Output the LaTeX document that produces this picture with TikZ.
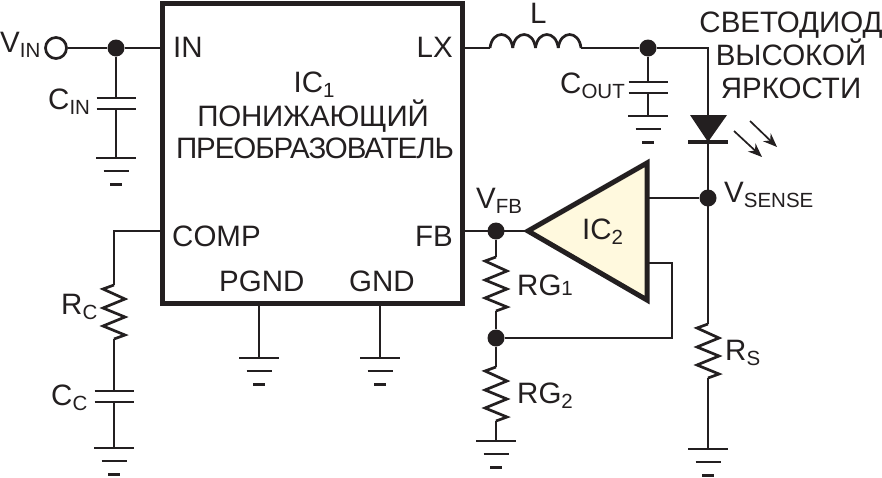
\documentclass[tikz,border=0pt]{standalone}
\usepackage{fontspec}
\setmainfont{Liberation Sans}
\usetikzlibrary{arrows.meta}
\definecolor{ink}{HTML}{231F20}
\definecolor{ampfill}{HTML}{FFF9DE}
\newcommand{\lsub}[1]{\raisebox{-5.5pt}{\fontsize{20.5}{20.5}\selectfont #1}}
\begin{document}
\begin{tikzpicture}[x=1pt, y=-1pt, color=ink]
    \tikzset{
      wire/.style={line width=2.7pt},
      heavy/.style={line width=5pt},
      dotnode/.style={circle, fill=ink, inner sep=0pt, minimum size=17pt},
      lbl/.style={anchor=base west, inner sep=0pt, font=\fontsize{29.5}{29.5}\selectfont},
      lblc/.style={lbl, anchor=base},
      gnd/.pic={
        \coordinate (-top) at (0,0);
        \draw[wire] (-20,0) -- (20,0);
        \draw[wire] (-12.5,13) -- (12.5,13);
        \draw[line width=3pt] (-6,26) -- (6,26);
      },
      capa/.pic={
        \coordinate (-a) at (0,0);
        \coordinate (-b) at (0,11);
        \draw[wire] (-19.5,0) -- (19.5,0);
        \draw[wire] (-19.5,11) -- (19.5,11);
      },
      resist/.pic={
        \coordinate (-a) at (0,0);
        \coordinate (-b) at (0,54);
        \draw[wire, line join=miter] (0,0) -- (-11,4) -- (11,14) -- (-11,23) -- (11,32) -- (-11,41) -- (11,50) -- (0,54);
      },
      coil/.pic={
        \coordinate (-a) at (0,0);
        \coordinate (-b) at (91,0);
        \foreach \i in {0,1,2,3}
          \draw[wire] (22.75*\i,0) .. controls (22.75*\i+2,-18) and (22.75*\i+20.75,-18) .. (22.75*\i+22.75,0);
      }
    }
    \useasboundingbox (0,0) rectangle (882,477);

    \draw (312,153) node (ic1) [heavy, draw, minimum width=300pt, minimum height=300pt, inner sep=0pt, outer sep=0pt] {};

    \draw (56,48) node (vin) [circle, wire, draw, inner sep=0pt, minimum size=21pt] {};
    \draw (116,48) node (n1) [dotnode] {};
    \draw (648,48) node (n2) [dotnode] {};
    \draw (496,231) node (nfb) [dotnode] {};
    \draw (496,338) node (nrg) [dotnode] {};
    \draw (708,198) node (nsense) [dotnode] {};

    \coordinate (pinin) at (162,48);
    \coordinate (pinlx) at (462,48);
    \coordinate (pincomp) at (162,231);
    \coordinate (pinfb) at (462,231);
    \coordinate (pinpgnd) at (259,303);
    \coordinate (pingnd) at (380,303);
    \coordinate (cornerled) at (708,48);
    \coordinate (cornercomp) at (114,231);
    \coordinate (ampin) at (528,231);
    \coordinate (ampsense) at (647,198);
    \coordinate (ampfb) at (647,263);
    \coordinate (cornerfb) at (672,263);
    \coordinate (cornerrg) at (672,338);

    \pic (cin) at (116,98) {capa};
    \pic (cout) at (648,82) {capa};
    \pic (cc) at (114,391) {capa};
    \pic (rc) at (114,285) {resist};
    \pic (rg1) at (496,257) {resist};
    \pic (rg2) at (496,367) {resist};
    \pic (rs) at (708,324) {resist};
    \pic (coil) at (490,48) {coil};
    \pic (g1) at (116,158) {gnd};
    \pic (g2) at (648,116) {gnd};
    \pic (g3) at (114,448) {gnd};
    \pic (g4) at (259,358) {gnd};
    \pic (g5) at (380,358) {gnd};
    \pic (g6) at (496,441) {gnd};
    \pic (g7) at (708,449) {gnd};

    \draw[wire] (vin) -- (n1) -- (pinin);
    \draw[wire] (n1) -- (cin-a);
    \draw[wire] (cin-b) -- (g1-top);
    \draw[wire] (pinlx) -- (coil-a);
    \draw[wire] (coil-b) -- (n2) -- (cornerled) -- (rs-a);
    \draw[wire] (n2) -- (cout-a);
    \draw[wire] (cout-b) -- (g2-top);
    \draw[wire] (pincomp) -- (cornercomp) -- (rc-a);
    \draw[wire] (rc-b) -- (cc-a);
    \draw[wire] (cc-b) -- (g3-top);
    \draw[wire] (pinpgnd) -- (g4-top);
    \draw[wire] (pingnd) -- (g5-top);
    \draw[wire] (pinfb) -- (ampin);
    \draw[wire] (nfb) -- (rg1-a);
    \draw[wire] (rg1-b) -- (nrg);
    \draw[wire] (nrg) -- (rg2-a);
    \draw[wire] (rg2-b) -- (g6-top);
    \draw[wire] (nrg) -- (cornerrg) -- (cornerfb) -- (ampfb);
    \draw[wire] (ampsense) -- (nsense);
    \draw[wire] (rs-b) -- (g7-top);

    \draw[heavy, fill=ampfill] (ampin) -- (647,163) -- (647,300) -- cycle;

    % led
    \fill (690,115) -- (727,115) -- (708,142) -- cycle;
    \draw[line width=4pt] (688,142) -- (728,142);
    \coordinate (ray1a) at (734,131);
    \coordinate (ray1b) at (762,157);
    \coordinate (ray2a) at (750,121);
    \coordinate (ray2b) at (777,147);
    \foreach \from/\to in {ray1a/ray1b, ray2a/ray2b}
      \draw[line width=1.7pt, -{Stealth[length=14pt, width=11pt]}] (\from) -- (\to);

    \draw (0,52) node (tvin) [lbl] {V\lsub{IN}};
    \draw (173,57) node (tin) [lbl] {IN};
    \draw (48,109) node (tcin) [lbl] {C\lsub{IN}};
    \draw (172,246) node (tcomp) [lbl] {COMP};
    \draw (219,291) node (tpgnd) [lbl] {PGND};
    \draw (349,291) node (tgnd) [lbl] {GND};
    \draw (453,246) node (tfb) [lbl, anchor=base east] {FB};
    \draw (453,57) node (tlx) [lbl, anchor=base east] {LX};
    \draw (314,92) node (tic1) [lblc] {IC\lsub{1}};
    \draw (313,126) node (ttype1) [lblc] {\addfontfeatures{LetterSpace=-0.8}ПОНИЖАЮЩИЙ};
    \draw (315,158) node (ttype2) [lblc] {\addfontfeatures{LetterSpace=-3.6}ПРЕОБРАЗОВАТЕЛЬ};
    \draw (530,23) node (tl) [lbl] {L};
    \draw (560,93) node (tcout) [lbl] {C\lsub{OUT}};
    \draw (791,32) node (tled1) [lblc] {СВЕТОДИОД};
    \draw (791,65) node (tled2) [lblc] {ВЫСОКОЙ};
    \draw (791,98) node (tled3) [lblc] {ЯРКОСТИ};
    \draw (476,208) node (tvfb) [lbl] {V\lsub{FB}};
    \draw (582,239) node (tic2) [lbl] {IC\lsub{2}};
    \draw (724,202) node (tsense) [lbl] {V\lsub{SENSE}};
    \draw (517,295) node (trg1) [lbl] {RG{\fontsize{20.5}{20.5}\selectfont 1}};
    \draw (517,403) node (trg2) [lbl] {RG\lsub{2}};
    \draw (725,360) node (trs) [lbl] {R\lsub{S}};
    \draw (61,314) node (trc) [lbl] {R\lsub{C}};
    \draw (51,405) node (tcc) [lbl] {C\lsub{C}};
\end{tikzpicture}
\end{document}
